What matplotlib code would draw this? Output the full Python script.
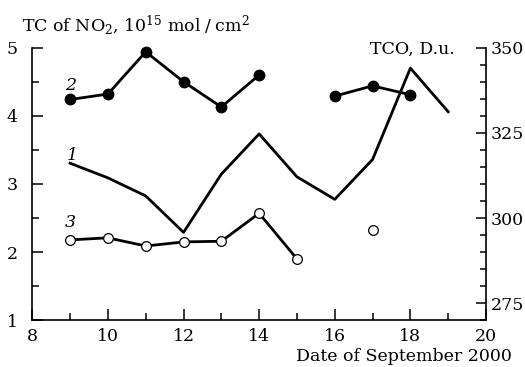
import matplotlib
matplotlib.use("Agg")
import matplotlib.pyplot as plt
import numpy as np

plt.rcParams['font.family'] = ['DejaVu Serif']
plt.rcParams['mathtext.fontset'] = 'dejavuserif'

# Series 2: NO2 (filled circles), left axis; None = gap
x2 = [9, 10, 11, 12, 13, 14, 15, 16, 17, 18]
no2_filled = [4.24, 4.32, 4.94, 4.50, 4.13, 4.60, None, 4.29, 4.44, 4.31]

# Series 3: NO2 (open circles), left axis
x3 = [9, 10, 11, 12, 13, 14, 15, 16, 17]
no2_open = [2.18, 2.21, 2.09, 2.15, 2.16, 2.57, 1.90, None, 2.32]

# Series 1: TCO (line), right axis
x1 = [9, 10, 11, 12, 13, 14, 15, 16, 17, 18, 19]
tco = [316.1, 311.8, 306.5, 295.8, 312.9, 324.7, 312.1, 305.5, 317.2, 344.0, 331.2]

xticks = [8, 10, 12, 14, 16, 18, 20]
left_ticks = [1, 2, 3, 4, 5]
right_ticks = [275, 300, 325, 350]

FS = 12.5
W, H = 525, 367

fig = plt.figure(figsize=(W/100, H/100), dpi=100)
ax = fig.add_axes([32.3/W, 1-320.3/H, (486-32.3)/W, (320.3-47.7)/H])
ax2 = ax.twinx()

ax.set_xlim(8, 20)
ax.set_ylim(1, 5)
ax2.set_ylim(270, 350)

y2 = np.array([np.nan if v is None else v for v in no2_filled], dtype=float)
y3 = np.array([np.nan if v is None else v for v in no2_open], dtype=float)

ax2.plot(x1, tco, color='black', lw=2.0, zorder=2, clip_on=False)
ax.plot(x2, y2, color='black', lw=2.0, marker='o', ms=7.5, mfc='black', mec='black', zorder=3, clip_on=False)
ax.plot(x3, y3, color='black', lw=2.0, marker='o', ms=7, mfc='white', mec='black', mew=0.9, zorder=3, clip_on=False)
ax.set_zorder(ax2.get_zorder() + 1)
ax.patch.set_visible(False)

for a in (ax, ax2):
    a.spines['top'].set_visible(False)
    for s in a.spines.values():
        s.set_linewidth(1.2)
ax.spines['right'].set_visible(False)
ax2.spines['left'].set_visible(False)
ax2.spines['bottom'].set_visible(False)

ax.set_xticks(xticks)
ax.set_xticks(range(9, 20, 2), minor=True)
ax.set_yticks(left_ticks)
ax.set_yticks(np.arange(1.5, 5, 1.0), minor=True)
ax2.set_yticks(right_ticks)
ax2.set_yticks(np.arange(270, 351, 5), minor=True)

ax.tick_params(axis='both', which='major', direction='in', length=8, width=1.1, labelsize=FS)
ax.tick_params(axis='both', which='minor', direction='in', length=4.8, width=1.1)
ax.tick_params(axis='y', which='major', pad=10.5)
ax.tick_params(axis='x', which='major', pad=5.5)
ax2.tick_params(axis='y', which='major', direction='in', length=7.5, width=1.1, labelsize=FS, pad=3.6)
ax2.tick_params(axis='y', which='minor', direction='in', length=4, width=1.1)

ax.text(9.0, 4.45, '2', style='italic', fontsize=FS, ha='center', va='center')
ax.text(9.05, 3.42, '1', style='italic', fontsize=FS, ha='center', va='center')
ax.text(9.0, 2.43, '3', style='italic', fontsize=FS, ha='center', va='center')

fig.text(22/W, 1-31.5/H, r'TC of NO$_2$, 10$^{15}$ mol$\;/\;$cm$^2$', fontsize=FS, ha='left', va='baseline')
fig.text(455/W, 1-54.3/H, 'TCO, D.u.', fontsize=FS, ha='right', va='baseline')
fig.text(511.7/W, 1-361/H, 'Date of September 2000', fontsize=FS, ha='right', va='baseline')

fig.savefig('out.png', dpi=100)
